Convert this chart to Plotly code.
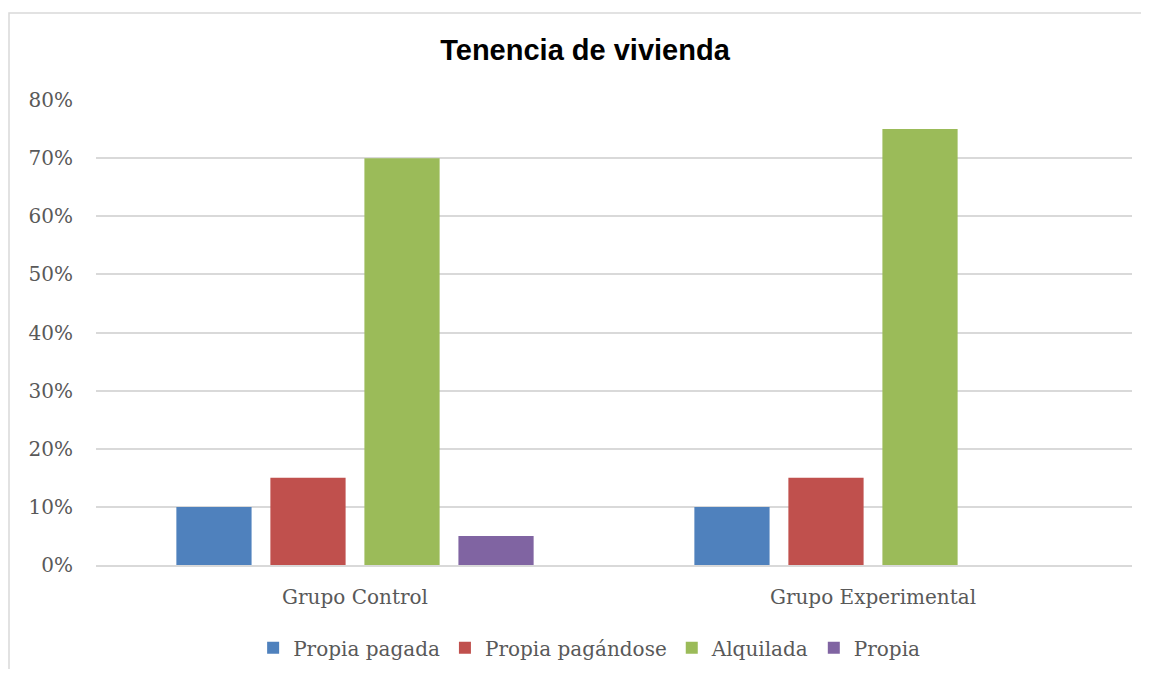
import plotly.graph_objects as go

# Data
groups = ['Grupo Control', 'Grupo Experimental']
propia_pagada = [0.10, 0.10]
propia_pagandose = [0.15, 0.15]
alquilada = [0.70, 0.75]
propia = [0.05, 0.0]

series = [
    ('Propia pagada', propia_pagada, '#4f81bd'),
    ('Propia pagándose', propia_pagandose, '#c0504d'),
    ('Alquilada', alquilada, '#9bbb59'),
    ('Propia', propia, '#8064a2'),
]

serif = 'DejaVu Serif'
W, H = 1133, 661  # page body has an 8px margin

fig = go.Figure()
for name, vals, color in series:
    fig.add_trace(go.Bar(x=groups, y=vals, name=name, marker=dict(color=color, line=dict(width=0))))

fig.update_layout(
    width=W, height=H,
    margin=dict(l=88, r=9, t=92, b=104, autoexpand=False),
    paper_bgcolor='white', plot_bgcolor='white',
    barmode='group', bargap=0.274, bargroupgap=0.2,
    title=dict(text='<b>Tenencia de vivienda</b>', x=577 / W, xanchor='center',
               y=1 - 42 / H, yanchor='middle', yref='container',
               font=dict(family='Liberation Sans, Arial', size=29, color='black')),
    font=dict(family=serif, size=20, color='#595959'),
    legend=dict(orientation='h', x=0.476, xanchor='center', y=-0.178, yanchor='middle',
                font=dict(family=serif, size=20, color='#595959'),
                traceorder='normal'),
    showlegend=True,
)
fig.update_yaxes(range=[0, 0.8], dtick=0.1, tickformat='.0%', showgrid=True,
                 gridcolor='#d9d9d9', gridwidth=1.5, zeroline=False, showline=False,
                 ticklabelstandoff=22, tickfont=dict(family=serif, size=20, color='#595959'))
fig.update_xaxes(showline=True, linecolor='#d9d9d9', linewidth=1.5, ticks='',
                 ticklabelstandoff=13, tickfont=dict(family=serif, size=20, color='#595959'))

# chart area border
fig.add_shape(type='rect', xref='paper', yref='paper',
              x0=(1 - 88) / 1036, x1=(1138 - 88) / 1036,
              y0=(557 - 690) / 465, y1=(557 - 5) / 465,
              line=dict(color='#d9d9d9', width=1.5), fillcolor='rgba(0,0,0,0)', layer='below')

fig.write_html('out.html')
